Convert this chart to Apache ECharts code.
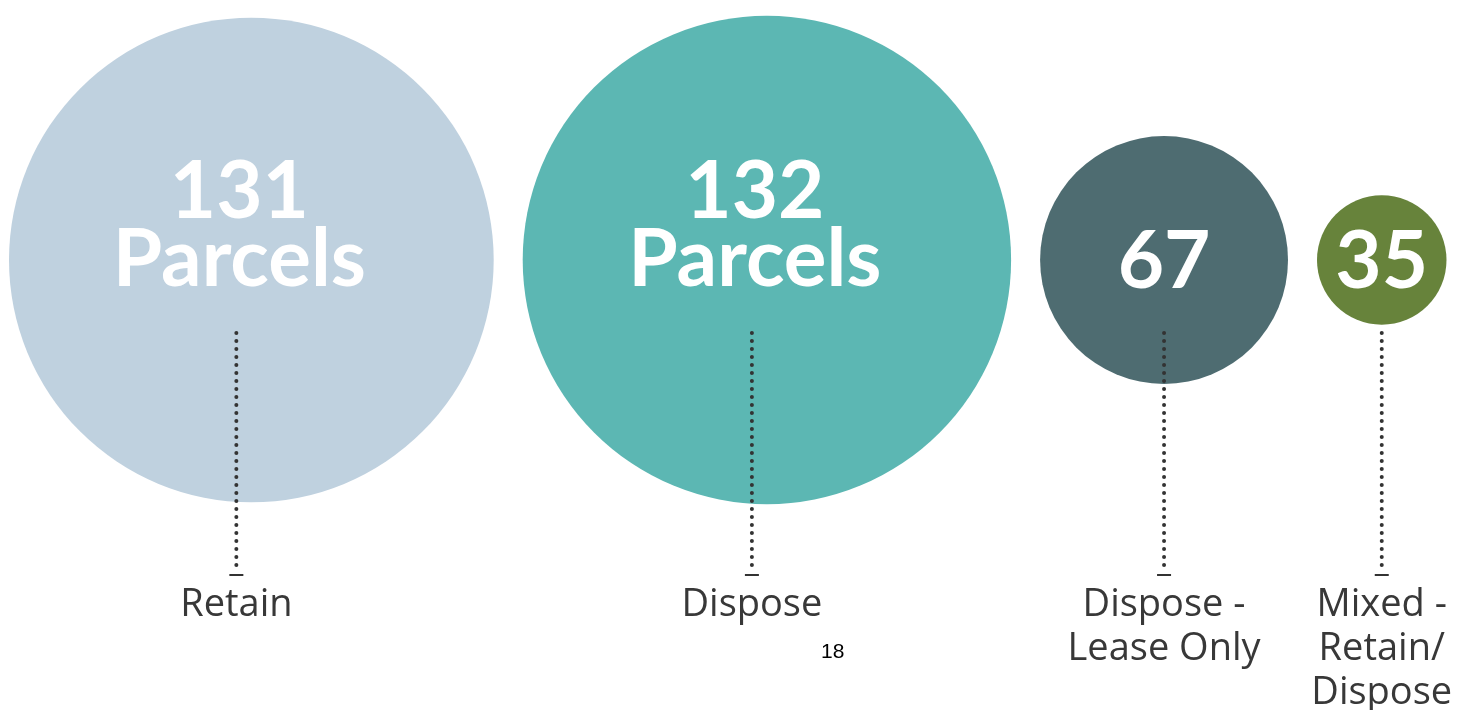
<!DOCTYPE html>
<html>
<head>
<meta charset="utf-8">
<script src="https://cdn.jsdelivr.net/npm/echarts@6/dist/echarts.min.js"></script>
<style>
  html, body { margin: 0; padding: 0; background: #fff; }
  #chart { width: 1459px; height: 710px; }
</style>
</head>
<body>
<div id="chart"></div>
<script>
// data
const categories = ['Retain', 'Dispose', 'Dispose -\nLease Only', 'Mixed -\nRetain/\nDispose']
const parcels = [131, 132, 67, 35]
const units = ['Parcels', 'Parcels', '', '']
const colors = ['#BFD1DF', '#5CB7B3', '#4E6C71', '#67833B']

// layout
const W = 1459
const H = 710
const SIZE_PER_PARCEL = 3.7
const GAP = 29
const LEFT = 9
const CY = 260

const chart = echarts.init(document.getElementById('chart'))

// circles sit side by side, sized by value
let cursor = LEFT
const centers = parcels.map(v => {
  const d = v * SIZE_PER_PARCEL
  const cx = cursor + d / 2
  cursor += d + GAP
  return cx
})

chart.setOption({
  backgroundColor: '#fff',
  animation: false,
  title: {
    text: '18',
    left: 816,
    top: 637,
    textStyle: { fontFamily: 'Liberation Sans', fontSize: 21, fontWeight: 'normal', color: '#000' }
  },
  grid: { left: 0, right: 0, top: 0, bottom: 0 },
  xAxis: { type: 'value', min: 0, max: W, show: false },
  yAxis: { type: 'value', min: 0, max: H, inverse: true, show: false },
  series: [
    {
      type: 'scatter',
      symbol: 'circle',
      symbolSize: (val) => val[2] * SIZE_PER_PARCEL,
      data: parcels.map((v, i) => ({
        value: [centers[i], CY, v],
        itemStyle: { color: colors[i], opacity: 1 },
        label: { offset: units[i] ? [-12, -34] : [0, 2] }
      })),
      label: {
        show: true,
        position: 'inside',
        formatter: (p) => p.value[2] + (units[p.dataIndex] ? '\n' + units[p.dataIndex] : ''),
        color: '#fff',
        fontFamily: 'Lato',
        fontWeight: 'bold',
        fontSize: 80,
        lineHeight: 68
      },
      z: 1
    },
    {
      type: 'custom',
      data: parcels.map((v, i) => [centers[i], i]),
      renderItem: (params, api) => {
        const x = api.coord([api.value(0), 0])[0] - (api.value(1) < 2 ? 15 : 0)
        const i = api.value(1)
        const top = api.coord([0, 333])[1]
        const bottom = api.coord([0, 568])[1]
        const tickY = api.coord([0, 575])[1]
        const textY = api.coord([0, 583])[1]
        return {
          type: 'group',
          children: [
            {
              type: 'line',
              shape: { x1: x, y1: top, x2: x, y2: bottom },
              style: { stroke: '#333', lineWidth: 4, lineCap: 'round', lineDash: [0.1, 7.9] }
            },
            {
              type: 'line',
              shape: { x1: x - 7, y1: tickY, x2: x + 7, y2: tickY },
              style: { stroke: '#333', lineWidth: 2 }
            },
            {
              type: 'text',
              style: {
                x: x,
                y: textY,
                text: categories[i],
                align: 'center',
                verticalAlign: 'top',
                fill: '#383838',
                font: '38px "Open Sans"',
                lineHeight: 44
              }
            }
          ]
        }
      },
      z: 2
    }
  ]
})
</script>
</body>
</html>
